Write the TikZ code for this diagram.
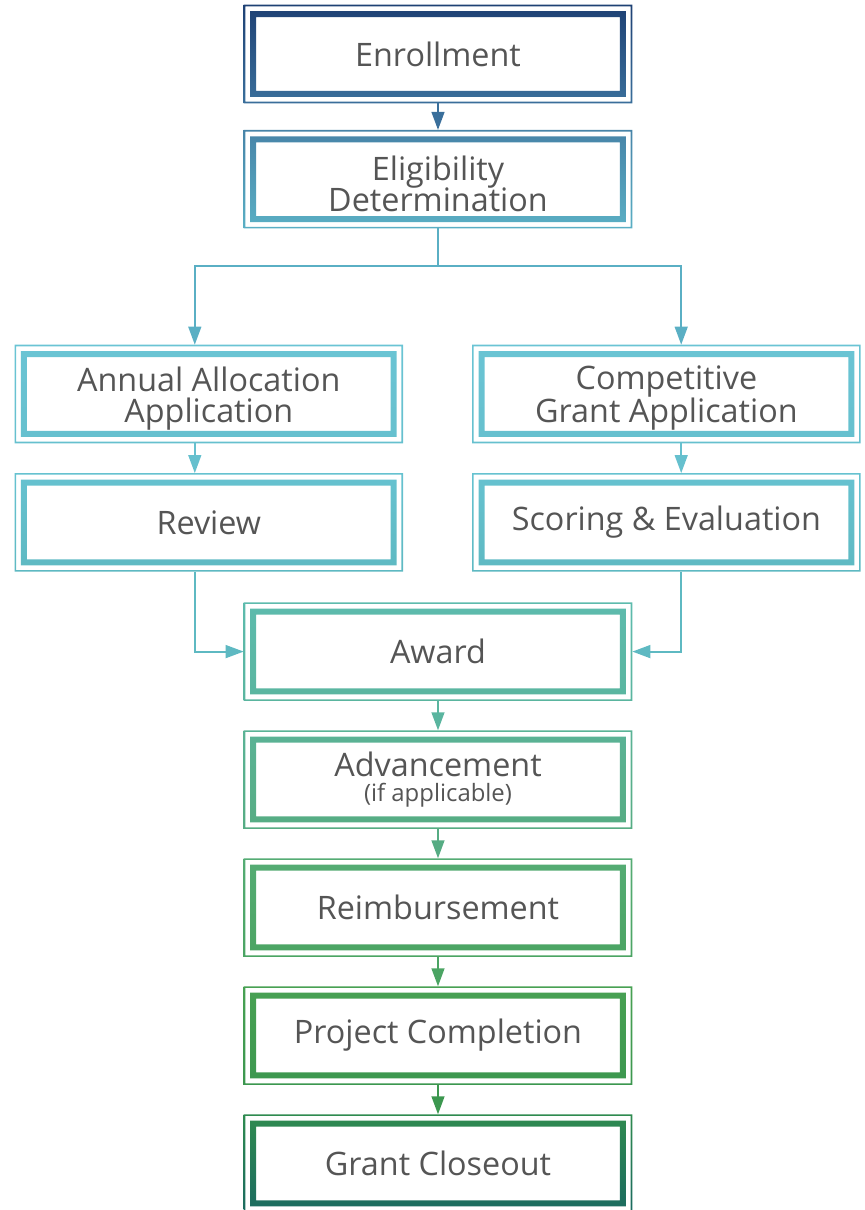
\documentclass[tikz,border=0pt]{standalone}
\usepackage{fontspec}
\setmainfont{Open Sans}
\usetikzlibrary{arrows.meta}

\definecolor{txt}{HTML}{555555}
\definecolor{enrollA}{HTML}{1E4174}
\definecolor{enrollB}{HTML}{3A6F9B}
\definecolor{eligA}{HTML}{4784A8}
\definecolor{eligB}{HTML}{5AAFC4}
\definecolor{applA}{HTML}{6AC4D4}
\definecolor{applB}{HTML}{66C0CE}
\definecolor{revA}{HTML}{66C2D0}
\definecolor{revB}{HTML}{5EB9C2}
\definecolor{awardA}{HTML}{5DBBAD}
\definecolor{awardB}{HTML}{5AB59F}
\definecolor{advA}{HTML}{5BB396}
\definecolor{advB}{HTML}{56AC83}
\definecolor{reimbA}{HTML}{55AC74}
\definecolor{reimbB}{HTML}{4BA463}
\definecolor{projA}{HTML}{48A153}
\definecolor{projB}{HTML}{3C974F}
\definecolor{closeA}{HTML}{2F8B50}
\definecolor{closeB}{HTML}{1B6A60}

\tikzset{
  stage/.style={minimum width=9.7cm, minimum height=2.45cm, inner sep=0pt,
    align=center, text=txt, font=\fontsize{23}{22.5}\selectfont},
  twoline/.style={stage, text height=1.64cm},
  link/.style={line width=1.4pt},
  arrow/.style={link, -{Triangle[length=0.45cm, width=0.32cm]}},
}

% thin outer line and thick inner band, shaded top to bottom
\newcommand{\stageframe}[3]{%
  \shade[top color=#2, bottom color=#3, even odd rule]
    (#1.north west) rectangle (#1.south east)
    ([shift={(0.04,-0.04)}]#1.north west) rectangle ([shift={(-0.04,0.04)}]#1.south east)
    ([shift={(0.16,-0.16)}]#1.north west) rectangle ([shift={(-0.16,0.16)}]#1.south east)
    ([shift={(0.31,-0.31)}]#1.north west) rectangle ([shift={(-0.31,0.31)}]#1.south east);
}

\begin{document}
\begin{tikzpicture}

            \useasboundingbox (0,0) rectangle (21.625,30.25);

            \node[stage] (enroll) at (10.95,28.9) {Enrollment};
            \node[twoline] (elig) at (10.95,25.77) {Eligibility\\Determination};
            
            \node[twoline] (annual) at (5.22,20.4) {Annual Allocation\\Application};
            \node[twoline] (compet) at (16.66,20.4) {Competitive\\Grant Application};
            \node[stage] (review) at (5.22,17.19) {Review};
            \node[stage] (scoring) at (16.66,17.19) {Scoring \& Evaluation};
            
            \node[stage] (award) at (10.95,13.96) {Award};
            \node[stage] (advance) at (10.95,10.76) {Advancement\\[-5pt]{\fontsize{17}{17}\selectfont (if applicable)}};
            \node[stage] (reimb) at (10.95,7.56) {Reimbursement};
            \node[stage] (project) at (10.95,4.36) {Project Completion};
            \node[stage] (closeout) at (10.95,1.16) {Grant Closeout};
            
            \stageframe{enroll}{enrollA}{enrollB}
            \stageframe{elig}{eligA}{eligB}
            \stageframe{annual}{applA}{applB}
            \stageframe{compet}{applA}{applB}
            \stageframe{review}{revA}{revB}
            \stageframe{scoring}{revA}{revB}
            \stageframe{award}{awardA}{awardB}
            \stageframe{advance}{advA}{advB}
            \stageframe{reimb}{reimbA}{reimbB}
            \stageframe{project}{projA}{projB}
            \stageframe{closeout}{closeA}{closeB}
            
            \draw[arrow, color=enrollB] (enroll) -- (elig);
            
            % split into the two application paths
            \coordinate (fork) at (10.95,23.6);
            \draw[link, color=eligB] (elig) -- (fork);
            \draw[arrow, color=eligB] (fork) -| ([xshift=-0.35cm]annual.north);
            \draw[arrow, color=eligB] (fork) -| ([xshift=0.37cm]compet.north);
            
            \draw[arrow, color=applB] ([xshift=-0.35cm]annual.south) -- ([xshift=-0.35cm]review.north);
            \draw[arrow, color=applB] ([xshift=0.37cm]compet.south) -- ([xshift=0.37cm]scoring.north);
            
            \draw[arrow, color=revB] ([xshift=-0.35cm]review.south) |- (award.west);
            \draw[arrow, color=revB] ([xshift=0.37cm]scoring.south) |- (award.east);
            
            \draw[arrow, color=awardB] (award) -- (advance);
            \draw[arrow, color=advB] (advance) -- (reimb);
            \draw[arrow, color=reimbB] (reimb) -- (project);
            \draw[arrow, color=projB] (project) -- (closeout);
            
\end{tikzpicture}
\end{document}
